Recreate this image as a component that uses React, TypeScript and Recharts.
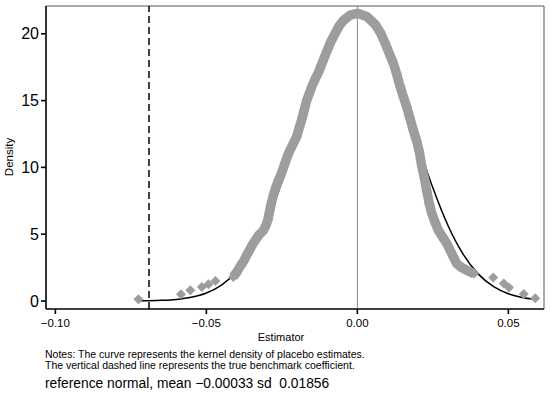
import React from "react";
import {
  ComposedChart,
  XAxis,
  YAxis,
  Line,
  Scatter,
  ReferenceLine,
} from "recharts";

// kernel density of the placebo estimates (dense band)
const bandX = [
  -0.0411, -0.0398, -0.0388, -0.0376, -0.0366, -0.0356, -0.0348, -0.0336, -0.0326, -0.0312,
  -0.0302, -0.0296, -0.029, -0.0284, -0.0277, -0.027, -0.0262, -0.0252, -0.024, -0.0228,
  -0.0214, -0.0201, -0.0192, -0.0184, -0.0176, -0.0168, -0.0158, -0.015, -0.014, -0.0129,
  -0.0115, -0.0101, -0.0088, -0.0074, -0.006, -0.0046, -0.0024, 0.0, 0.0031, 0.0059,
  0.0076, 0.0092, 0.0108, 0.0119, 0.013, 0.0141, 0.0152, 0.0164, 0.0175, 0.0185,
  0.0196, 0.0205, 0.0213, 0.0222, 0.023, 0.0238, 0.0246, 0.0257, 0.0268, 0.0282,
  0.0296, 0.0307, 0.0318, 0.0329, 0.0345, 0.0362, 0.0386,
];
const bandY = [
  1.8, 2.2, 2.6, 3.0, 3.45, 3.85, 4.2, 4.6, 4.95, 5.25,
  5.7, 6.1, 6.8, 7.4, 8.0, 8.5, 9.0, 9.5, 10.3, 11.05,
  11.7, 12.3, 13.0, 13.6, 14.3, 15.0, 15.6, 16.1, 16.6, 17.1,
  17.9, 18.7, 19.4, 20.0, 20.6, 21.0, 21.4, 21.53, 21.3, 20.7,
  20.1, 19.3, 18.4, 17.8, 17.0, 16.1, 15.3, 14.5, 13.6, 12.8,
  12.0, 11.2, 10.1, 9.2, 8.2, 7.3, 6.6, 5.9, 5.3, 4.8,
  4.3, 3.8, 3.3, 2.8, 2.5, 2.3, 2.05,
];

// isolated estimates in the tails
const tailX = [-0.0725, -0.0584, -0.0553, -0.0515, -0.0493, -0.047, 0.045, 0.0485, 0.0502, 0.0551, 0.0589];
const tailY = [0.13, 0.5, 0.8, 1.05, 1.25, 1.5, 1.75, 1.3, 1.0, 0.52, 0.2];

// reference normal curve
const normX = [
  -0.072, -0.065, -0.06, -0.055, -0.05, -0.045, -0.04, -0.035, -0.03, -0.025, -0.02, -0.015, -0.01, -0.005,
  0, 0.005, 0.01, 0.015, 0.02, 0.025, 0.03, 0.035, 0.04, 0.045, 0.05, 0.055, 0.058,
];
const normY = [
  0.01, 0.05, 0.12, 0.28, 0.6, 1.19, 2.19, 3.75, 5.99, 8.89, 12.25, 15.73, 18.76, 20.82,
  21.49, 20.62, 18.41, 15.28, 11.79, 8.47, 5.65, 3.51, 2.03, 1.09, 0.54, 0.25, 0.15,
];

const xTicks = [-0.1, -0.05, 0, 0.05];
const yTicks = [0, 5, 10, 15, 20];
const benchmark = -0.069;

const band = bandX.map((x, i) => ({ x, y: bandY[i] }));
const tails = tailX.map((x, i) => ({ x, y: tailY[i] }));
const allPoints = [...band, ...tails];
const normal = normX.map((x, i) => ({ x, y: normY[i] }));

const GRAY = "#9d9d9d";
const FONT = "'Liberation Sans', Arial, sans-serif";

const Diamond = (props: any) => {
  const { cx, cy } = props;
  const r = 5;
  return (
    <polygon
      points={`${cx},${cy - r} ${cx + r},${cy} ${cx},${cy + r} ${cx - r},${cy}`}
      fill={GRAY}
    />
  );
};

const fmtX = (v: number) => {
  const s = Math.abs(v).toFixed(2);
  return v < 0 ? `\u2212${s}` : s;
};

const App = () => {
  return (
    <div
      style={{
        position: "absolute",
        left: 0,
        top: 0,
        width: 550,
        height: 395,
        background: "#fff",
        fontFamily: FONT,
      }}
    >
      <ComposedChart
        width={550}
        height={340}
        margin={{ top: 6, right: 6, bottom: 0, left: 0 }}
      >
        <XAxis
          type="number"
          dataKey="x"
          domain={[-0.1031, 0.0618]}
          ticks={xTicks}
          tickFormatter={fmtX}
          allowDataOverflow
          height={31}
          stroke="#000"
          strokeWidth={1.6}
          tickSize={5}
          tickMargin={5}
          tick={{ fill: "#000", fontSize: 11.5, fontFamily: FONT }}
        />
        <YAxis
          type="number"
          dataKey="y"
          domain={[-0.6, 22.08]}
          ticks={yTicks}
          allowDataOverflow
          width={46}
          stroke="#000"
          strokeWidth={1.6}
          tickSize={5}
          tickMargin={2}
          tick={{ fill: "#000", fontSize: 16, fontFamily: FONT }}
        />
        <ReferenceLine y={22.08} stroke="#555" strokeWidth={1} />
        <ReferenceLine x={0.0618} stroke="#555" strokeWidth={1} />
        <ReferenceLine x={0} stroke="#888" strokeWidth={1} />
        <ReferenceLine
          x={benchmark}
          stroke="#000"
          strokeWidth={1.5}
          strokeDasharray="7 4"
        />
        <Line
          data={normal}
          dataKey="y"
          type="monotone"
          stroke="#000"
          strokeWidth={1.5}
          dot={false}
          isAnimationActive={false}
        />
        <Line
          data={band}
          dataKey="y"
          type="linear"
          stroke={GRAY}
          strokeWidth={9.5}
          strokeLinejoin="round"
          dot={false}
          isAnimationActive={false}
        />
        <Scatter
          data={allPoints}
          dataKey="y"
          shape={<Diamond />}
          isAnimationActive={false}
        />
      </ComposedChart>
      <div
        style={{
          position: "absolute",
          left: 9,
          top: 157,
          transform: "translate(-50%, -50%) rotate(-90deg)",
          fontSize: 11.5,
          whiteSpace: "nowrap",
        }}
      >
        Density
      </div>
      <div
        style={{
          position: "absolute",
          left: 281,
          top: 337,
          transform: "translate(-50%, -50%)",
          fontSize: 11,
          whiteSpace: "nowrap",
        }}
      >
        Estimator
      </div>
      <div
        style={{
          position: "absolute",
          left: 45,
          top: 349,
          fontSize: 10.5,
          lineHeight: "11px",
          whiteSpace: "nowrap",
        }}
      >
        Notes: The curve represents the kernel density of placebo estimates.
        <br />
        The vertical dashed line represents the true benchmark coefficient.
      </div>
      <div
        style={{
          position: "absolute",
          left: 45,
          top: 376,
          fontSize: 13.8,
          lineHeight: "16px",
          whiteSpace: "pre",
        }}
      >
        {"reference normal, mean \u22120.00033 sd  0.01856"}
      </div>
    </div>
  );
};

export default App;
